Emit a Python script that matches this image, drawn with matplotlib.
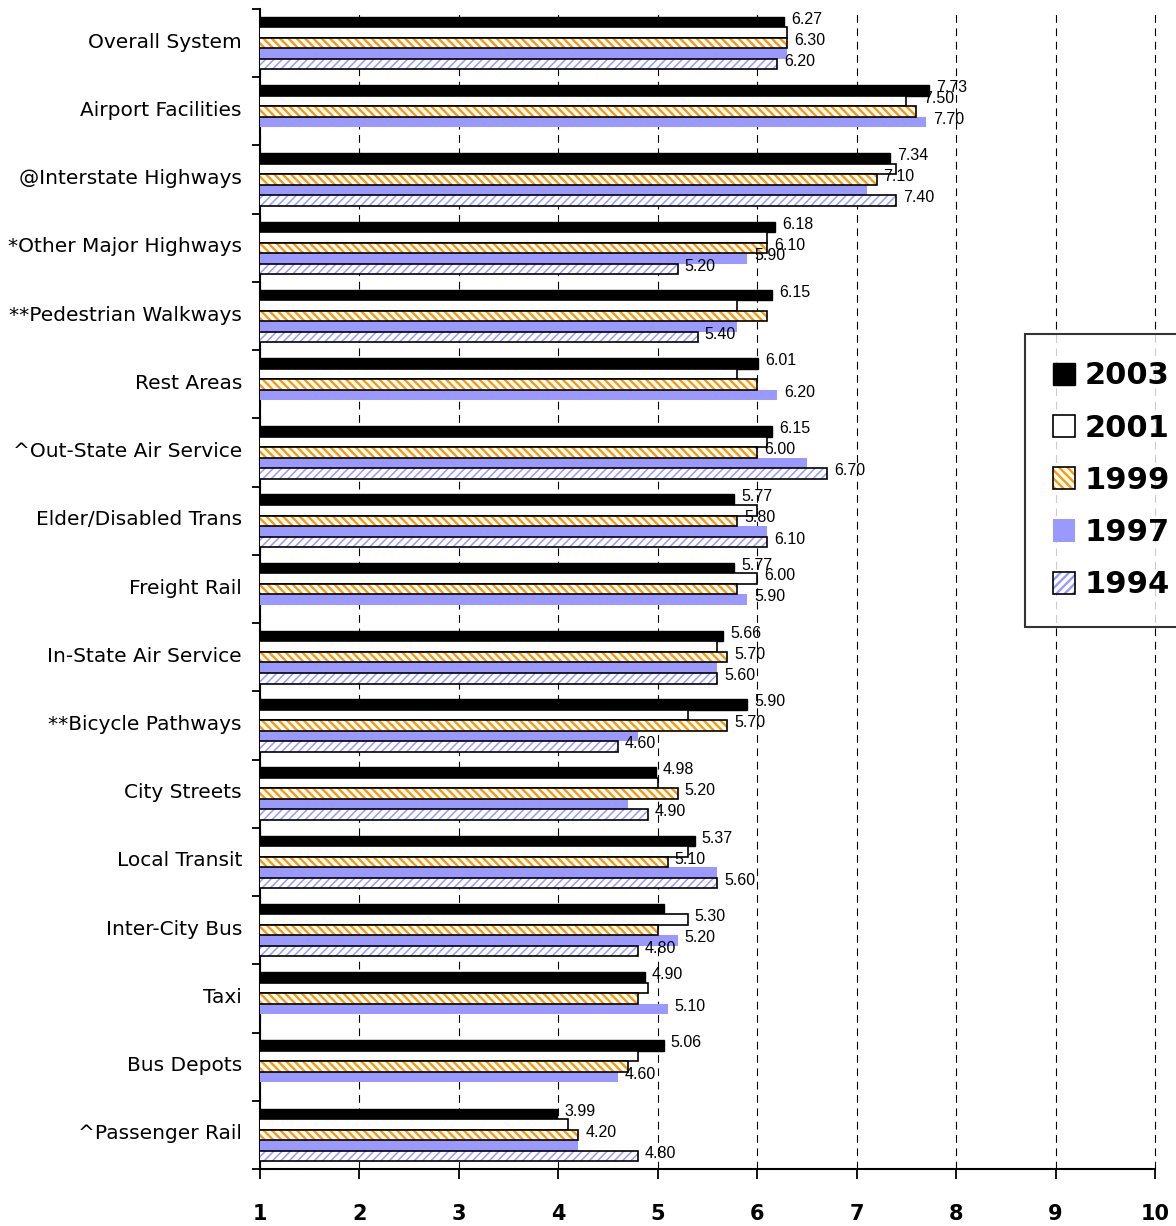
import numpy as np
import matplotlib
matplotlib.use("Agg")
import matplotlib.pyplot as plt
import matplotlib.transforms as mtransforms
from matplotlib.patches import Patch
from matplotlib.legend_handler import HandlerTuple

# categories, top to bottom
categories = ["Overall System", "Airport Facilities", "@Interstate Highways", "*Other Major Highways",
              "**Pedestrian Walkways", "Rest Areas", "^Out-State Air Service", "Elder/Disabled Trans",
              "Freight Rail", "In-State Air Service", "**Bicycle Pathways", "City Streets",
              "Local Transit", "Inter-City Bus", "Taxi", "Bus Depots", "^Passenger Rail"]

years = ["2003", "2001", "1999", "1997", "1994"]

# mean ratings per year (None = not surveyed)
v2003 = [6.27, 7.73, 7.34, 6.18, 6.15, 6.01, 6.15, 5.77, 5.77, 5.66, 5.90, 4.98, 5.37, 5.06, 4.87, 5.06, 3.99]
v2001 = [6.30, 7.50, 7.40, 6.10, 5.80, 5.80, 6.10, 6.00, 6.00, 5.60, 5.30, 5.00, 5.30, 5.30, 4.90, 4.80, 4.10]
v1999 = [6.30, 7.60, 7.20, 6.10, 6.10, 6.00, 6.00, 5.80, 5.80, 5.70, 5.70, 5.20, 5.10, 5.00, 4.80, 4.70, 4.20]
v1997 = [6.30, 7.70, 7.10, 5.90, 5.80, 6.20, 6.50, 6.10, 5.90, 5.60, 4.80, 4.70, 5.60, 5.20, 5.10, 4.60, 4.20]
v1994 = [6.20, None, 7.40, 5.20, 5.40, None, 6.70, 6.10, None, 5.60, 4.60, 4.90, 5.60, 4.80, None, None, 4.80]

# data labels shown on the chart ("" = no label)
lab2003 = ["6.27", "7.73", "7.34", "6.18", "6.15", "6.01", "6.15", "5.77", "5.77", "5.66", "5.90", "4.98",
           "5.37", "", "4.90", "5.06", "3.99"]
lab2001 = ["", "7.50", "", "", "", "", "", "", "6.00", "", "", "", "", "5.30", "", "", ""]
lab1999 = ["6.30", "", "7.10", "6.10", "", "", "6.00", "5.80", "", "5.70", "5.70", "5.20", "5.10",
           "", "", "", "4.20"]
lab1997 = ["", "7.70", "", "5.90", "", "6.20", "", "", "5.90", "", "", "", "", "5.20", "5.10", "4.60", ""]
lab1994 = ["6.20", "", "7.40", "5.20", "5.40", "", "6.70", "6.10", "", "5.60", "4.60", "4.90", "5.60",
           "4.80", "", "", "4.80"]

values = [v2003, v2001, v1999, v1997, v1994]
labels = [lab2003, lab2001, lab1999, lab1997, lab1994]

ORANGE = "#FF9900"
LILAC = "#9999FF"
plt.rcParams["hatch.linewidth"] = 1.7


def thin_hatch(patches, lw):
    # per-artist hatch width where the matplotlib version supports it
    for p in patches:
        if hasattr(p, "set_hatch_linewidth"):
            p.set_hatch_linewidth(lw)


fig = plt.figure(figsize=(11.76, 12.26), dpi=100)
ax = fig.add_axes([260 / 1176, 1 - 1169 / 1226, 895 / 1176, 1160 / 1226])

y = np.arange(len(categories))
h = 0.154

for i, vals in enumerate(values):
    vals = np.array(vals, dtype=float)
    ok = ~np.isnan(vals)
    pos = y[ok] + (i - 2) * h
    w = vals[ok]
    if i == 0:
        ax.barh(pos, w, height=h, color="black", edgecolor="black", linewidth=1, zorder=3)
    elif i == 1:
        ax.barh(pos, w, height=h, color="white", edgecolor="black", linewidth=1.2, zorder=3)
    elif i == 2:
        ax.barh(pos, w, height=h, color="white", edgecolor=ORANGE, hatch="\\\\\\\\", linewidth=0, zorder=3)
        ax.barh(pos, w, height=h, fill=False, edgecolor="black", linewidth=1.2, zorder=4)
    elif i == 3:
        ax.barh(pos, w, height=h, color=LILAC, linewidth=0, zorder=3)
    else:
        b = ax.barh(pos, w, height=h, color="white", edgecolor=LILAC, hatch="////", linewidth=0, zorder=3)
        thin_hatch(b, 1.1)
        ax.barh(pos, w, height=h, fill=False, edgecolor="black", linewidth=1.2, zorder=4)

    # value labels at bar ends; 2001 labels sit between rows, so they clear the 1999 bar too
    for j in range(len(categories)):
        txt = labels[i][j]
        if txt and not np.isnan(vals[j]):
            xend = vals[j]
            if i == 1:
                xend = max(xend, v1999[j])
            ax.annotate(txt, (xend, y[j] + (i - 2) * h), xytext=(5, 2), textcoords="offset points",
                        va="center", ha="left", fontsize=11.5, family="Liberation Sans", zorder=5)

ax.set_xlim(1, 10)
ax.set_ylim(len(categories) - 0.5, -0.5)

ax.set_xticks(range(1, 11))
ax.set_xticklabels([str(t) for t in range(1, 11)], fontsize=15, fontweight="bold")
ax.tick_params(axis="x", length=7, width=1.3, direction="out", pad=18)

ax.set_yticks(y)
ax.set_yticklabels(categories, fontsize=14.5)
ax.tick_params(axis="y", which="major", length=0, pad=13)
ax.set_yticks(np.arange(-0.5, len(categories), 1), minor=True)
ax.tick_params(axis="y", which="minor", length=6, width=1.3, direction="out")
lift = mtransforms.ScaledTranslation(0, 3 / 100, fig.dpi_scale_trans)
for lbl in ax.get_yticklabels():
    lbl.set_transform(lbl.get_transform() + lift)

ax.xaxis.grid(True, linestyle=(0, (7, 5)), color="black", linewidth=0.8)
for gl in ax.get_xgridlines():
    gl.set_clip_on(False)
ax.set_axisbelow(True)

ax.spines["top"].set_visible(False)
ax.spines["right"].set_visible(False)
ax.spines["left"].set_linewidth(1.5)
ax.spines["bottom"].set_linewidth(1.5)

# legend
hatch99 = Patch(facecolor="white", edgecolor=ORANGE, hatch="\\\\\\\\", linewidth=0)
hatch94 = Patch(facecolor="white", edgecolor=LILAC, hatch="////", linewidth=0)
thin_hatch([hatch94], 1.1)
handles = [
    Patch(facecolor="black", edgecolor="black"),
    Patch(facecolor="white", edgecolor="black", linewidth=1.2),
    (hatch99, Patch(fill=False, edgecolor="black", linewidth=1.2)),
    Patch(facecolor=LILAC, linewidth=0),
    (hatch94, Patch(fill=False, edgecolor="black", linewidth=1.2)),
]
leg = fig.legend(handles, years, loc="upper left", bbox_to_anchor=(1025 / 1176, 1 - 334 / 1226),
                 borderaxespad=0, prop={"weight": "bold", "size": 22}, labelspacing=0.76,
                 handletextpad=0.3, borderpad=0.9, handlelength=0.75, handleheight=0.75,
                 fancybox=False, handler_map={tuple: HandlerTuple(ndivide=1, pad=0)})
leg.get_frame().set_edgecolor("black")
leg.get_frame().set_linewidth(1.5)

fig.savefig("out.png", dpi=100)
